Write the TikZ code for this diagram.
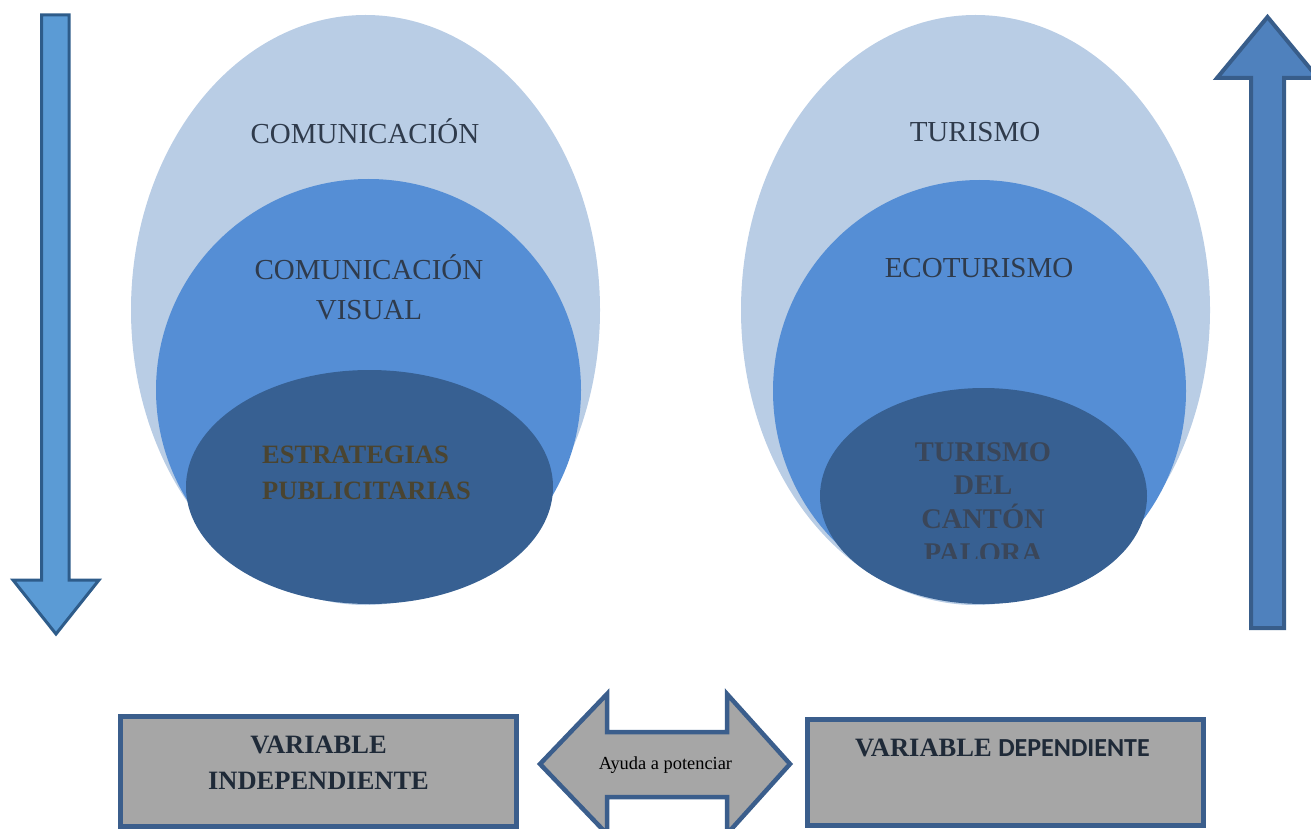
\documentclass[tikz,border=0pt]{standalone}
\usepackage{fontspec}
\setmainfont{Liberation Serif}
\newfontfamily\calib{Carlito}
\definecolor{lightE}{HTML}{B9CDE5}
\definecolor{midE}{HTML}{558ED5}
\definecolor{darkE}{HTML}{376092}
\definecolor{arrLfill}{HTML}{5B9BD5}
\definecolor{arrLdraw}{HTML}{2E5C8A}
\definecolor{arrRfill}{HTML}{4F81BD}
\definecolor{arrRdraw}{HTML}{385D8A}
\definecolor{boxfill}{HTML}{A6A6A6}
\definecolor{boxdraw}{HTML}{3B5E8C}
\definecolor{txtA}{HTML}{2F3B4C}
\definecolor{txtB}{HTML}{4A4430}
\definecolor{txtC}{HTML}{3A4659}
\definecolor{txtD}{HTML}{1F2A38}
\begin{document}
\begin{tikzpicture}[x=1pt,y=-1pt,
  lbl/.style={inner sep=0pt,align=center,text=txtA,font=\fontsize{29}{40}\selectfont},
  boldlbl/.style={inner sep=0pt,font=\bfseries\fontsize{26.5}{36}\selectfont},
  varbox/.style={draw=boxdraw,line width=5pt,fill=boxfill},
  dblarrow/.style={draw=boxdraw,line width=4.5pt,fill=boxfill,line join=miter}]
\useasboundingbox (0,0) rectangle (1311,829);
\clip (0,0) rectangle (1311,829);
% left arrow
\draw[fill=arrLfill,draw=arrLdraw,line width=3pt,line join=miter]
  (41.5,15) -- (69,15) -- (69,580) -- (99,580) -- (56,634) -- (13,580) -- (41.5,580) -- cycle;
% right arrow
\draw[fill=arrRfill,draw=arrRdraw,line width=4pt,line join=miter]
  (1251,628) -- (1284,628) -- (1284,78) -- (1318,78) -- (1267.5,17) -- (1217,78) -- (1251,78) -- cycle;
% left ellipses
\fill[lightE] (365.5,310) ellipse [x radius=234.5,y radius=295];
\fill[midE] (368.5,390) ellipse [x radius=212.5,y radius=211];
\fill[darkE] (369.5,487) ellipse [x radius=183.5,y radius=117];
% right ellipses
\fill[lightE] (975.5,310) ellipse [x radius=234.5,y radius=295];
\fill[midE] (979.5,391) ellipse [x radius=206.5,y radius=211];
\fill[darkE] (983.5,496) ellipse [x radius=163.5,y radius=108];
% texts left
\node[lbl] (com) at (365,131.5) {COMUNICACIÓN};
\node[lbl] (comvis) at (369,287) {COMUNICACIÓN\\VISUAL};
\node[boldlbl,text=txtB,align=left,anchor=west] (estr) at (262,473) {ESTRATEGIAS\\PUBLICITARIAS};
% texts right
\node[lbl] (tur) at (975,132) {TURISMO};
\node[lbl] (eco) at (979,268.5) {ECOTURISMO};
\begin{scope}
\clip (800,420) rectangle (1160,558);
\node[inner sep=0pt,align=center,text=txtC,font=\bfseries\fontsize{28.5}{33.7}\selectfont,anchor=north] (turdel) at (983,442) {TURISMO\\DEL\\CANTÓN\\PALORA};
\end{scope}
% bottom boxes
\draw[varbox] (120.5,716.5) rectangle (516.5,826);
\node[boldlbl,text=txtD,align=center] (vi) at (318.5,763) {VARIABLE\\INDEPENDIENTE};
\draw[varbox] (807.5,719) rectangle (1203,825);
\node[inner sep=0pt,text=txtD,anchor=base west] (vd) at (855,756) {\bfseries\fontsize{26.5}{32}\selectfont VARIABLE \calib\fontsize{26}{32}\selectfont DEPENDIENTE};
% double arrow
\draw[dblarrow] (540,764) -- (607,694) -- (607,732) -- (727,732) -- (727,694) -- (790,764) -- (727,834) -- (727,797) -- (607,797) -- (607,834) -- cycle;
\node[inner sep=0pt,font=\fontsize{18.4}{22}\selectfont,text=black] (ayuda) at (665.5,765) {Ayuda a potenciar};
\end{tikzpicture}
\end{document}
